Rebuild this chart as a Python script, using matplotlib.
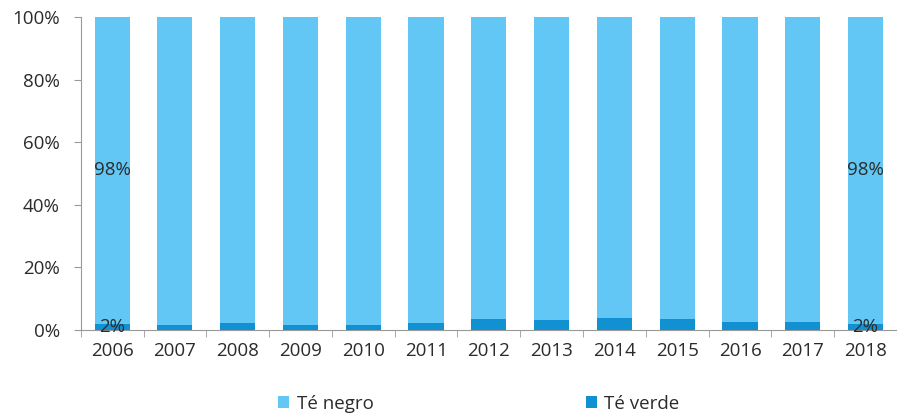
import matplotlib
matplotlib.use("Agg")
import matplotlib.pyplot as plt
from matplotlib.ticker import FuncFormatter
import numpy as np

plt.rcParams["font.family"] = ["Open Sans", "DejaVu Sans"]

years = ["2006", "2007", "2008", "2009", "2010", "2011", "2012",
         "2013", "2014", "2015", "2016", "2017", "2018"]
te_verde = [2.0, 1.6, 2.2, 1.7, 1.7, 2.2, 3.6, 3.2, 3.7, 3.6, 2.6, 2.6, 2.0]
te_negro = [100 - v for v in te_verde]

color_negro = "#62C7F5"
color_verde = "#1190D2"
text_color = "#2b2b2b"
fs = 13.5

fig = plt.figure(figsize=(8.97, 4.15), dpi=100)
ax = fig.add_axes([0.09, 0.205, 0.91, 0.754])

x = np.arange(len(years))
width = 0.56
ax.bar(x, te_verde, width, color=color_verde, label="Té verde", zorder=2)
ax.bar(x, te_negro, width, bottom=te_verde, color=color_negro, label="Té negro", zorder=2)

# labels only on first and last year
for i in (0, len(years) - 1):
    ax.text(x[i], te_verde[i] + te_negro[i] / 2, f"{te_negro[i]:.0f}%",
            ha="center", va="center", fontsize=fs, color=text_color, zorder=3)
    ax.text(x[i], te_verde[i] / 2 - 0.2, f"{te_verde[i]:.0f}%",
            ha="center", va="center", fontsize=fs, color=text_color, zorder=3)

ax.set_xlim(-0.5, len(years) - 0.5)
ax.set_ylim(0, 100)
ax.set_yticks(range(0, 101, 20))
ax.yaxis.set_major_formatter(FuncFormatter(lambda v, p: f"{v:.0f}%"))

ax.set_xticks(x)
ax.set_xticklabels(years)
ax.set_xticks(np.arange(-0.5, len(years), 1.0), minor=True)
ax.tick_params(axis="x", which="major", length=0, pad=9, labelsize=fs, labelcolor=text_color)
ax.tick_params(axis="x", which="minor", length=5, color="#999999")
ax.tick_params(axis="y", length=5, color="#999999", labelsize=fs, labelcolor=text_color, pad=10)

for s in ("top", "right"):
    ax.spines[s].set_visible(False)
for s in ("left", "bottom"):
    ax.spines[s].set_color("#999999")

handles, labels = ax.get_legend_handles_labels()
fig.legend(handles[::-1], labels[::-1], loc="lower center", bbox_to_anchor=(0.534, -0.035),
           ncol=2, frameon=False, fontsize=fs, labelcolor=text_color,
           handlelength=0.6, handleheight=0.6, handletextpad=0.4, columnspacing=11.3)

fig.savefig("out.png", dpi=100)
